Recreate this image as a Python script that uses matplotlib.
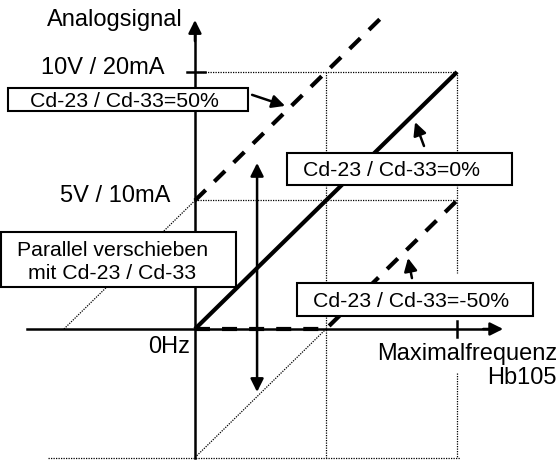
import matplotlib
matplotlib.use("Agg")
import matplotlib.pyplot as plt
from matplotlib.patches import Rectangle, FancyArrowPatch

plt.rcParams['font.family'] = ['Liberation Sans', 'DejaVu Sans']

# Offsets of the characteristic (fraction of full-scale signal)
offsets = [0.5, 0.0, -0.5]
offset_labels = ["Cd-23 / Cd-33=50%", "Cd-23 / Cd-33=0%", "Cd-23 / Cd-33=-50%"]
# Frequency range (fraction of max frequency) where each curve is drawn
x_start = [0.0, 0.0, 0.5]
x_end = [0.73, 1.0, 1.0]
# Extensions below the zero line (dotted)
ext_x0 = [-0.5, 0.0]
ext_x1 = [0.0, 0.5]
ext_off = [0.5, -0.5]

y_tick_labels = ["10V / 20mA", "5V / 10mA"]
y_tick_values = [1.0, 0.5]
x_label = "Maximalfrequenz\nHb105"
y_label = "Analogsignal"
origin_label = "0Hz"
shift_label = ["Parallel verschieben", "mit Cd-23 / Cd-33"]

fig = plt.figure(figsize=(5.6, 4.62), dpi=100)
ax = fig.add_axes([0, 0, 1, 1])
ax.set_xlim(-0.744, 1.393)
ax.set_ylim(-0.5175, 1.280)
ax.axis('off')

dot = dict(color='black', lw=0.9, ls=(0, (1, 1)), zorder=1)
# reference grid
ax.plot([0, 1], [1, 1], **dot)
ax.plot([0, 1], [0.5, 0.5], **dot)
ax.plot([-0.56, 1.01], [-0.5, -0.5], **dot)
ax.plot([0.5, 0.5], [1, -0.5], **dot)
ax.plot([1, 1], [1, 0.218], **dot)
ax.plot([1, 1], [-0.171, -0.5], **dot)
for a, b, o in zip(ext_x0, ext_x1, ext_off):
    ax.plot([a, b], [a + o, b + o], **dot)

# axes with arrow heads
head = dict(arrowstyle='-|>,head_length=0.6,head_width=0.3', mutation_scale=13,
            color='black', lw=1.8, zorder=2, shrinkA=0, shrinkB=0)
ax.plot([-0.641, 1.15], [0, 0], color='black', lw=1.8, zorder=2)
ax.plot([0, 0], [-0.502, 1.17], color='black', lw=1.8, zorder=2)
ax.add_patch(FancyArrowPatch((1.10, 0), (1.176, 0), **head))
ax.add_patch(FancyArrowPatch((0, 1.12), (0, 1.202), **head))
# ticks
ax.plot([-0.03, 0.038], [1, 1], color='black', lw=1.8, zorder=2)
ax.plot([1, 1], [0.03, -0.03], color='black', lw=1.8, zorder=2)

# characteristic lines
for o, xs, xe in zip(offsets, x_start, x_end):
    xs_ = [xs, xe]
    ys_ = [xs + o, xe + o]
    if o == 0:
        ax.plot(xs_, ys_, color='black', lw=3, solid_capstyle='butt', zorder=3)
    else:
        if o < 0:
            xs_ = [0.0] + xs_
            ys_ = [0.0] + ys_
        ax.plot(xs_, ys_, color='black', lw=3, ls=(0, (3.6, 2.9)),
                dash_capstyle='butt', zorder=3)

# labelled boxes
boxes = [(-0.714, 0.848, 0.916, 0.090), (0.351, 0.560, 0.859, 0.125), (0.389, 0.051, 0.901, 0.128)]
text_x = [-0.630, 0.412, 0.450]
for (bx, by, bw, bh), tx, lab in zip(boxes, text_x, offset_labels):
    ax.add_patch(Rectangle((bx, by), bw, bh, facecolor='white', edgecolor='black', lw=1.5, zorder=5))
    ax.text(tx, by + bh / 2, lab, ha='left', va='center_baseline', fontsize=15.3, zorder=6)

ax.add_patch(Rectangle((-0.740, 0.163), 0.896, 0.214, facecolor='white', edgecolor='black', lw=1.5, zorder=5))
ax.text(-0.315, 0.315, shift_label[0], ha='center', va='center_baseline', fontsize=15.3, zorder=6)
ax.text(-0.315, 0.222, shift_label[1], ha='center', va='center_baseline', fontsize=15.3, zorder=6)

# pointer arrows
arrow = dict(arrowstyle='-|>,head_length=0.6,head_width=0.3', mutation_scale=13,
             color='black', lw=1.8, zorder=6, shrinkA=0, shrinkB=0)
ax.add_patch(FancyArrowPatch((0.218, 0.911), (0.344, 0.868), **arrow))
ax.add_patch(FancyArrowPatch((0.874, 0.712), (0.840, 0.805), **arrow))
ax.add_patch(FancyArrowPatch((0.828, 0.198), (0.813, 0.276), **arrow))
ax.add_patch(FancyArrowPatch((0.237, -0.245), (0.237, 0.646),
                             arrowstyle='<|-|>,head_length=0.6,head_width=0.3', mutation_scale=13,
                             color='black', lw=1.8, zorder=6, shrinkA=0, shrinkB=0))

# axis texts
ax.text(-0.046, 1.21, y_label, ha='right', va='center_baseline', fontsize=17)
for v, lab, xr in zip(y_tick_values, y_tick_labels, [-0.115, -0.095]):
    ax.text(xr, v + 0.027, lab, ha='right', va='center_baseline', fontsize=17)
ax.text(-0.019, -0.062, origin_label, ha='right', va='center_baseline', fontsize=17)
ax.text(1.382, -0.145, x_label, ha='right', va='center', fontsize=17, linespacing=1.12)

fig.savefig("out.png", dpi=100)
